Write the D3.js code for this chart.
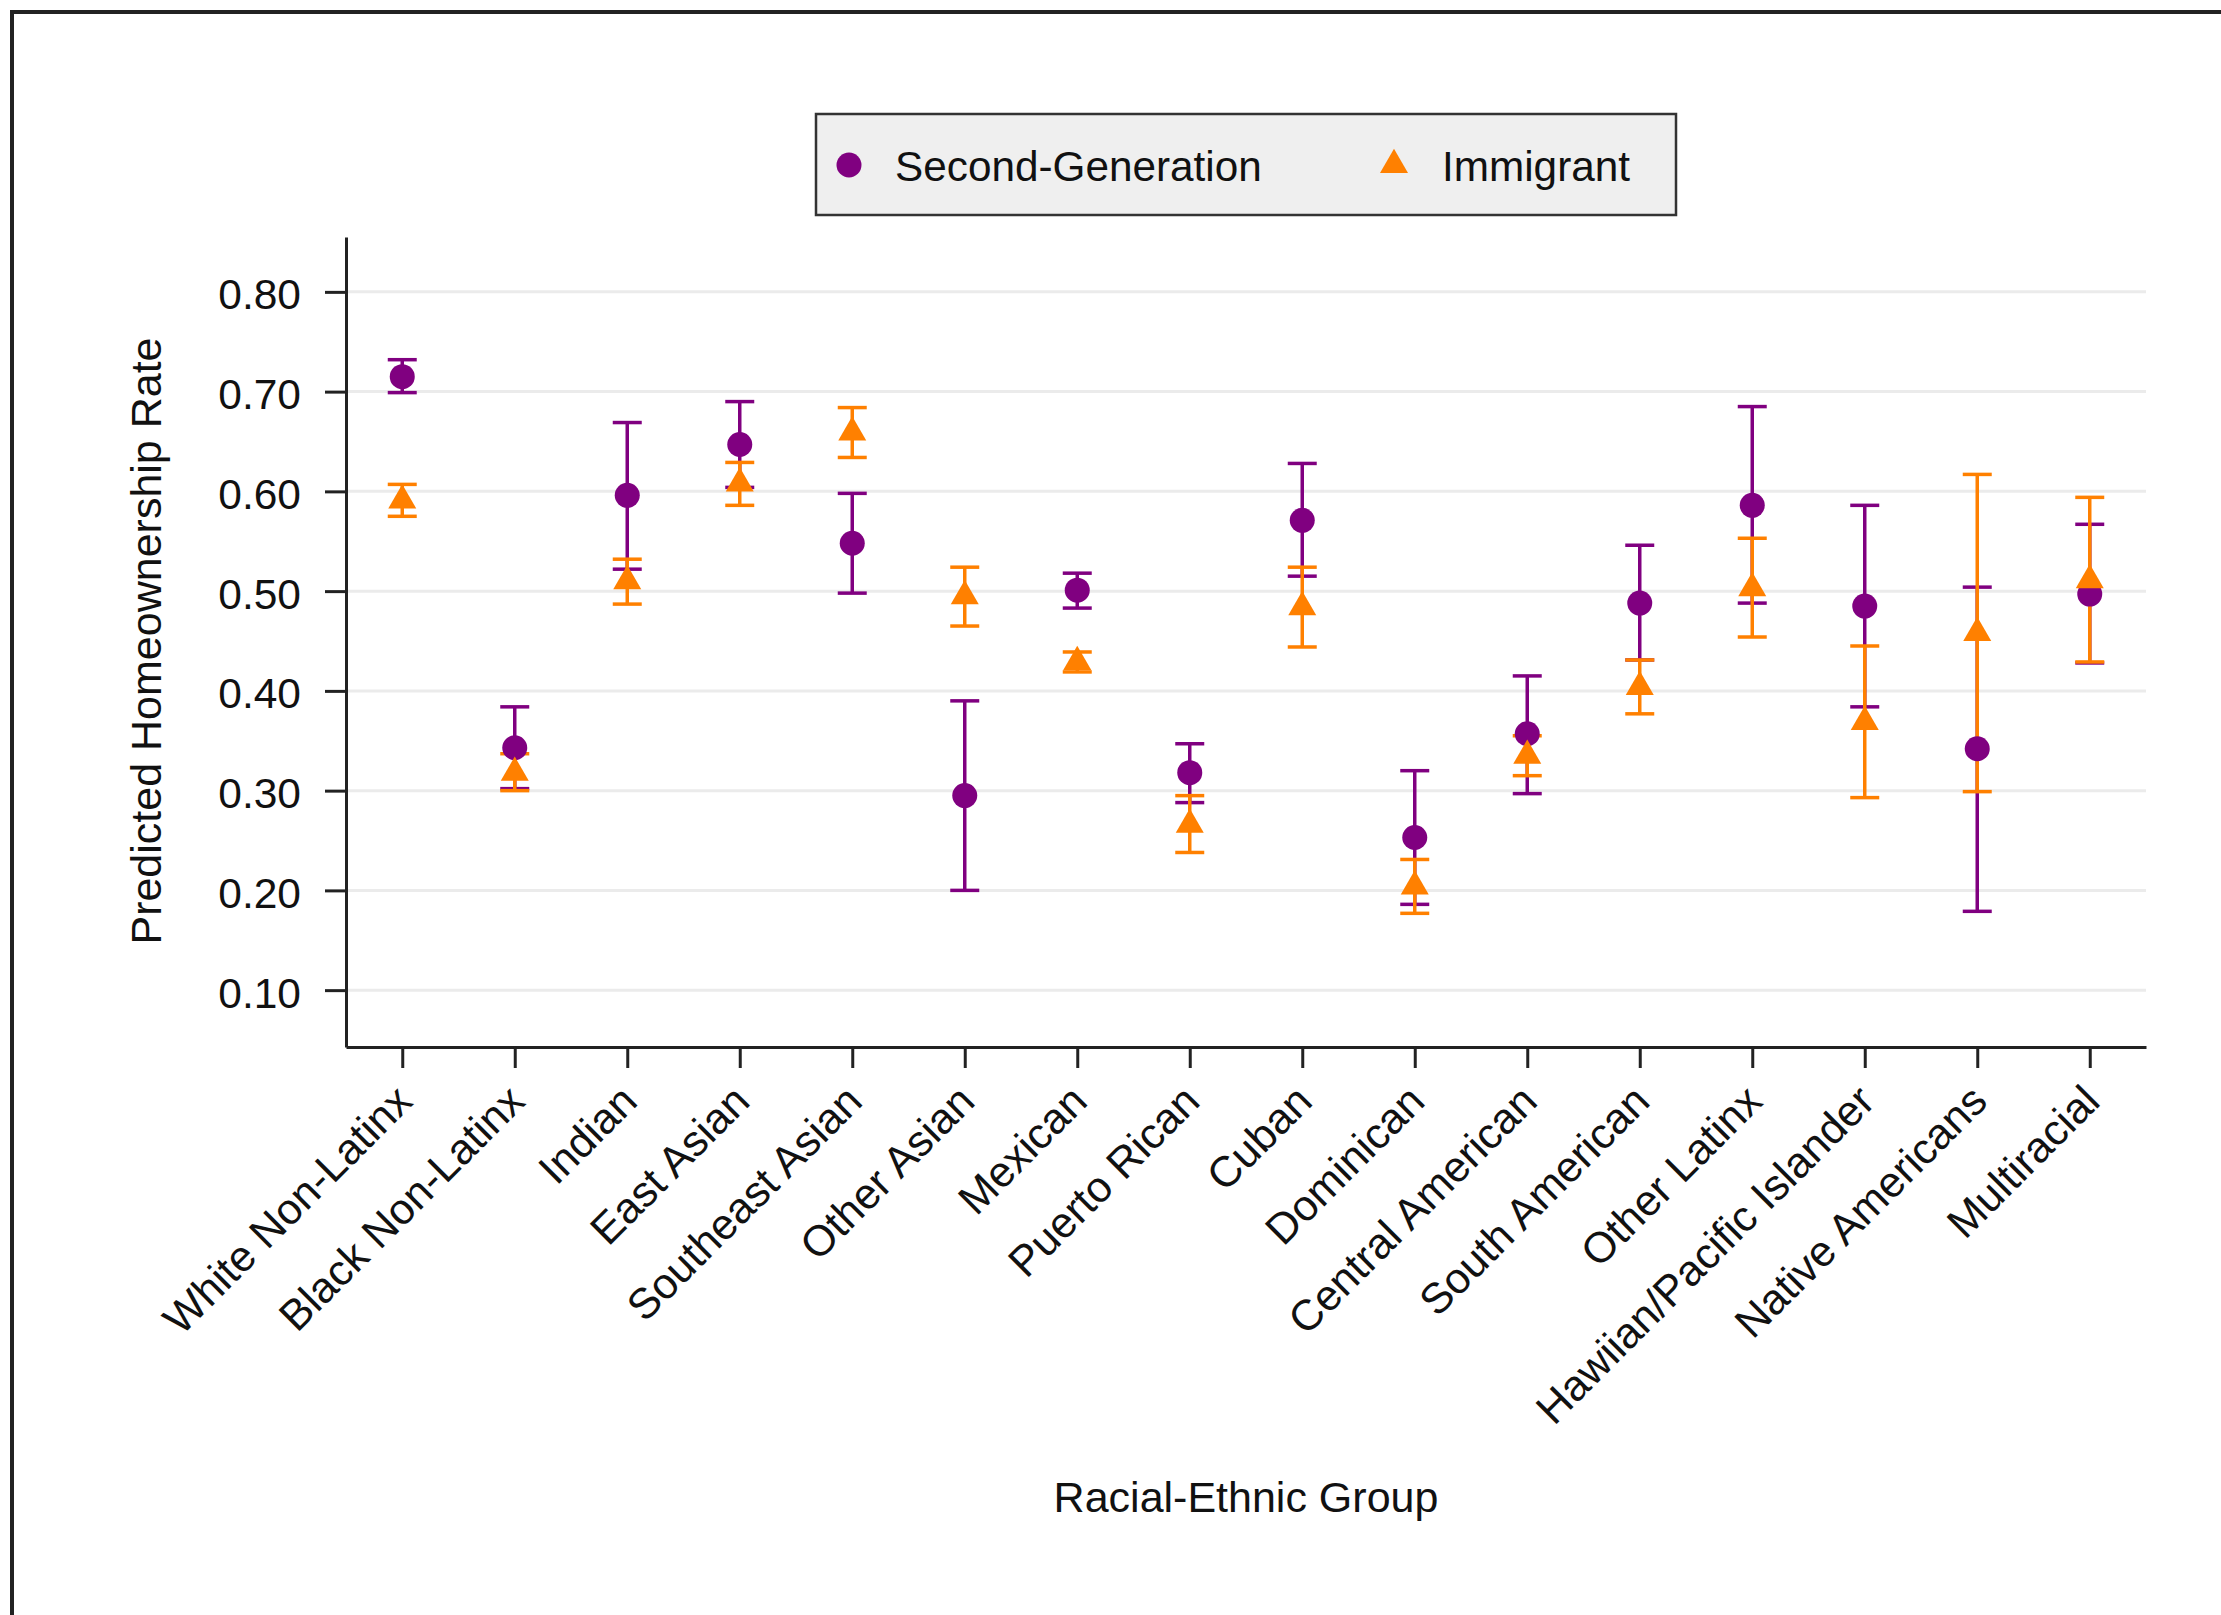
<!DOCTYPE html>
<html>
<head>
<meta charset="utf-8">
<script src="https://cdn.jsdelivr.net/npm/d3@7"></script>
<style>
  html, body { margin: 0; padding: 0; background: #ffffff; }
  svg { display: block; }
  text { font-family: "Liberation Sans", Arial, Helvetica, sans-serif; fill: #111; }
</style>
</head>
<body>
<svg id="chart" width="2221" height="1615"></svg>
<script>
// ---------------- data ----------------
const categories = ["White Non-Latinx", "Black Non-Latinx", "Indian", "East Asian", "Southeast Asian",
  "Other Asian", "Mexican", "Puerto Rican", "Cuban", "Dominican", "Central American",
  "South American", "Other Latinx", "Hawiian/Pacific Islander", "Native Americans", "Multiracial"];

const secondGen     = [0.715, 0.343, 0.596, 0.647, 0.548, 0.295, 0.501, 0.318, 0.571, 0.253, 0.357, 0.488, 0.586, 0.485, 0.342, 0.497];
const secondGenLow  = [0.699, 0.302, 0.522, 0.604, 0.498, 0.200, 0.483, 0.288, 0.515, 0.186, 0.297, 0.431, 0.488, 0.384, 0.179, 0.428];
const secondGenHigh = [0.732, 0.384, 0.669, 0.690, 0.598, 0.390, 0.518, 0.347, 0.628, 0.320, 0.415, 0.546, 0.685, 0.586, 0.504, 0.567];

const immigrant     = [0.591, 0.318, 0.510, 0.608, 0.659, 0.495, 0.429, 0.266, 0.484, 0.204, 0.335, 0.404, 0.503, 0.369, 0.458, 0.511];
const immigrantLow  = [0.575, 0.300, 0.487, 0.586, 0.634, 0.465, 0.419, 0.238, 0.444, 0.177, 0.315, 0.377, 0.454, 0.293, 0.299, 0.429];
const immigrantHigh = [0.607, 0.337, 0.532, 0.629, 0.684, 0.524, 0.439, 0.295, 0.524, 0.231, 0.355, 0.431, 0.553, 0.445, 0.617, 0.594];

const yTicks = [0.10, 0.20, 0.30, 0.40, 0.50, 0.60, 0.70, 0.80];
const yDomain = [0.043, 0.855];
const seriesNames = ["Second-Generation", "Immigrant"];
const yTitle = "Predicted Homeownership Rate";
const xTitle = "Racial-Ethnic Group";

// ---------------- layout ----------------
const PURPLE = "#800080";
const ORANGE = "#ff8000";
const AXIS = "#222222";
const FONT = "'Liberation Sans', Arial, Helvetica, sans-serif";
const plot = { left: 346, right: 2146, top: 237, bottom: 1047 };

const svg = d3.select("#chart");

// outer frame (top and left edges visible)
svg.append("path")
  .attr("d", "M12,1700 L12,12 L2300,12")
  .attr("fill", "none").attr("stroke", "#222").attr("stroke-width", 4);

const x = d3.scalePoint().domain(categories).range([plot.left, plot.right]).padding(0.5);
const y = d3.scaleLinear().domain(yDomain).range([plot.bottom, plot.top]);

// gridlines
svg.append("g").selectAll("line").data(yTicks).join("line")
  .attr("x1", plot.left).attr("x2", plot.right)
  .attr("y1", d => y(d)).attr("y2", d => y(d))
  .attr("stroke", "#ebebeb").attr("stroke-width", 3);

// y axis
const yAxis = svg.append("g").attr("transform", `translate(${plot.left},0)`)
  .call(d3.axisLeft(y).tickValues(yTicks).tickFormat(d3.format(".2f")).tickSize(21).tickSizeOuter(0).tickPadding(24));
yAxis.select(".domain").attr("stroke", AXIS).attr("stroke-width", 3);
yAxis.selectAll(".tick line").attr("stroke", AXIS).attr("stroke-width", 3);
yAxis.selectAll(".tick text").attr("font-size", 42.5).attr("fill", "#111")
  .attr("font-family", FONT).attr("dy", "0.4em");

// x axis
const xAxis = svg.append("g").attr("transform", `translate(0,${plot.bottom})`)
  .call(d3.axisBottom(x).tickSize(21).tickSizeOuter(0));
xAxis.select(".domain").attr("stroke", AXIS).attr("stroke-width", 3);
xAxis.selectAll(".tick line").attr("stroke", AXIS).attr("stroke-width", 3);
xAxis.selectAll(".tick text")
  .attr("font-size", 43).attr("fill", "#111")
  .attr("font-family", FONT)
  .attr("text-anchor", "end")
  .attr("y", 0).attr("dy", "0.35em")
  .attr("transform", "translate(1,46) rotate(-45)");

// axis titles
svg.append("text").attr("transform", "translate(161,641) rotate(-90)")
  .attr("text-anchor", "middle").attr("font-size", 43).text(yTitle);
svg.append("text").attr("x", (plot.left + plot.right) / 2).attr("y", 1512)
  .attr("text-anchor", "middle").attr("font-size", 43).text(xTitle);

// error bars
const capHalf = 14.5;
function drawCI(low, high, color) {
  const g = svg.append("g").attr("stroke", color).attr("stroke-width", 3.5).attr("fill", "none");
  categories.forEach((c, i) => {
    const cx = x(c);
    g.append("line").attr("x1", cx).attr("x2", cx).attr("y1", y(low[i])).attr("y2", y(high[i]));
    g.append("line").attr("x1", cx - capHalf).attr("x2", cx + capHalf).attr("y1", y(low[i])).attr("y2", y(low[i]));
    g.append("line").attr("x1", cx - capHalf).attr("x2", cx + capHalf).attr("y1", y(high[i])).attr("y2", y(high[i]));
  });
}
drawCI(secondGenLow, secondGenHigh, PURPLE);
drawCI(immigrantLow, immigrantHigh, ORANGE);

// markers
const triSide = 28;
const triangle = d3.symbol().type(d3.symbolTriangle).size(Math.sqrt(3) / 4 * triSide * triSide);

svg.append("g").selectAll("circle").data(categories).join("circle")
  .attr("cx", d => x(d)).attr("cy", (d, i) => y(secondGen[i]))
  .attr("r", 12.5).attr("fill", PURPLE);

svg.append("g").selectAll("path").data(categories).join("path")
  .attr("d", triangle)
  .attr("transform", (d, i) => `translate(${x(d)},${y(immigrant[i])})`)
  .attr("fill", ORANGE);

// legend
const lg = svg.append("g");
lg.append("rect").attr("x", 816).attr("y", 114).attr("width", 860).attr("height", 101)
  .attr("fill", "#efefef").attr("stroke", "#333").attr("stroke-width", 2.5);
lg.append("circle").attr("cx", 849).attr("cy", 165).attr("r", 12.5).attr("fill", PURPLE);
lg.append("text").attr("x", 895).attr("y", 181).attr("font-size", 42.3).text(seriesNames[0]);
lg.append("path").attr("d", triangle).attr("transform", "translate(1394,165)").attr("fill", ORANGE);
lg.append("text").attr("x", 1442).attr("y", 181).attr("font-size", 42.3).text(seriesNames[1]);
</script>
</body>
</html>
